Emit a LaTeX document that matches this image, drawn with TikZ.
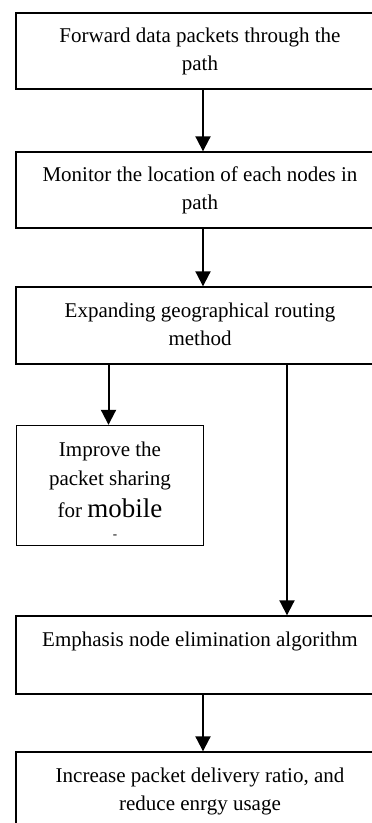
\documentclass[tikz,border=0pt]{standalone}
\usepackage{fontspec}
\setmainfont{Liberation Serif}
\usetikzlibrary{arrows.meta}
\tikzset{
  txt/.style={inner sep=0pt, font=\fontsize{21}{28}\selectfont},
  box/.style={draw, line width=1.4pt, inner sep=0pt, align=center,
    font=\fontsize{21}{28}\selectfont, minimum width=368pt},
  flow/.style={line width=2pt, -{Triangle[width=15pt,length=15pt]}},
}
\begin{document}
\begin{tikzpicture}[x=1pt,y=-1pt]
\useasboundingbox (0,0) rectangle (372,823);
\clip (0,0) rectangle (372,823);

% columns used by the connectors
\coordinate (spine) at (203,0);
\coordinate (lcol) at (108.5,0);
\coordinate (rcol) at (287,0);

% main chain of steps
\node[box, minimum height=76pt] (b1) at (200,51)
  {\strut Forward data packets through the\\\strut path};
\node[box, minimum height=76pt] (b2) at (200,190)
  {\strut Monitor the location of each nodes in\\\strut path};
\node[box, minimum height=77pt] (b3) at (200,325.5)
  {\strut Expanding geographical routing\\\strut method};
\node[box, minimum height=78pt] (b5) at (200,655)
  {\strut Emphasis node elimination algorithm\\\strut};
\node[box, minimum height=78pt] (b6) at (200,791)
  {\strut Increase packet delivery ratio, and\\\strut reduce enrgy usage};

% side step
\node[draw, line width=1.4pt, inner sep=0pt, minimum width=187pt,
  minimum height=120pt] (b4) at (110,485.5) {};
\node[txt, anchor=base] (b4a) at (110,456) {Improve the};
\node[txt, anchor=base] (b4b) at (110,485) {packet sharing};
\node[txt, anchor=base] (b4c) at (110,517) {for {\fontsize{27}{30}\selectfont mobile}};
\node[inner sep=0pt, anchor=base, font=\fontsize{13}{14}\selectfont] (b4d) at (115,538) {-};

% connectors
\draw[flow] (b1.south -| spine) -- (b2.north -| spine);
\draw[flow] (b2.south -| spine) -- (b3.north -| spine);
\draw[flow] (b3.south -| lcol) -- (b4.north -| lcol);
\draw[flow] (b3.south -| rcol) -- (b5.north -| rcol);
\draw[flow] (b5.south -| spine) -- (b6.north -| spine);
\end{tikzpicture}
\end{document}
